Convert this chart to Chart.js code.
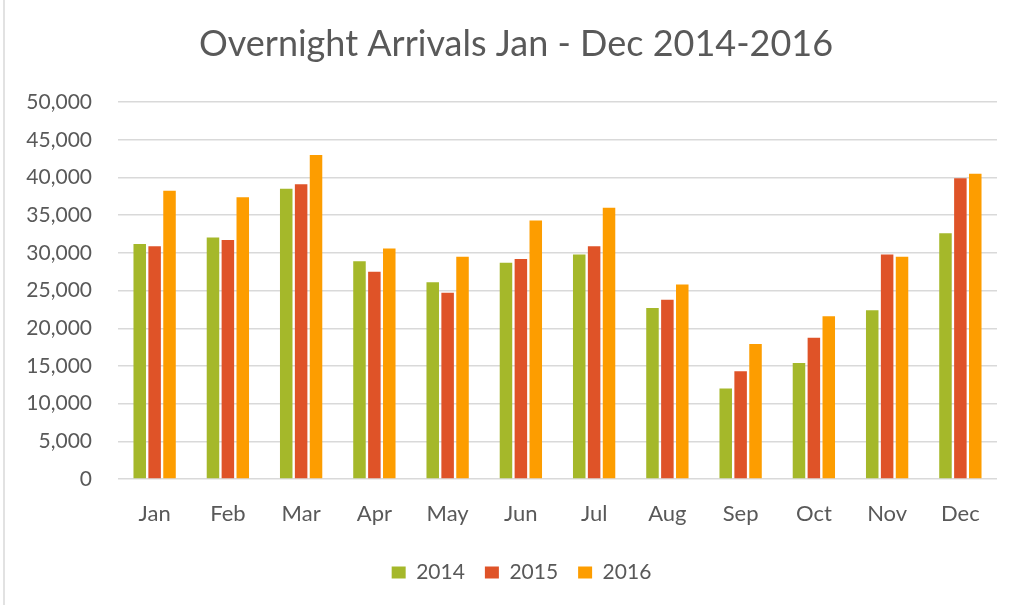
<!DOCTYPE html>
<html>
<head>
<meta charset="utf-8">
<script src="https://cdn.jsdelivr.net/npm/chart.js@4"></script>
<style>
  html, body { margin: 0; padding: 0; background: #fff; }
  #wrap { position: relative; width: 1024px; height: 605px; }
  #edge { position: absolute; left: 3px; top: 0; width: 2px; height: 605px; background: #e2e2e2; }
  canvas { display: block; }
</style>
</head>
<body>
<div id="wrap">
  <canvas id="arrivals" width="1024" height="605"></canvas>
  <div id="edge"></div>
</div>
<script>
// ---------- Data ----------
const months = ["Jan", "Feb", "Mar", "Apr", "May", "Jun", "Jul", "Aug", "Sep", "Oct", "Nov", "Dec"];
const years = ["2014", "2015", "2016"];

const arrivals2014 = [31200, 32050, 38500, 28900, 26100, 28700, 29800, 22700, 12000, 15400, 22400, 32600];
const arrivals2015 = [30900, 31700, 39100, 27500, 24700, 29200, 30900, 23800, 14300, 18750, 29800, 39900];
const arrivals2016 = [38250, 37400, 43000, 30600, 29500, 34300, 36000, 25800, 17900, 21600, 29500, 40500];

const yTicks = [0, 5000, 10000, 15000, 20000, 25000, 30000, 35000, 40000, 45000, 50000];

const colors = ["#a5b82a", "#df5328", "#fd9d00"];
const textGray = "#595959";
const fontFamily = "Lato, 'Open Sans', sans-serif";

// the original's title and legend sit a little right of the plot's centre
const nudgeBoxes = {
  id: "nudgeBoxes",
  afterLayout(chart) {
    if (chart.titleBlock) chart.titleBlock.left = 35;
    if (chart.legend) chart.legend.left = 46;
  },
};

// ---------- Chart ----------
const series = [arrivals2014, arrivals2015, arrivals2016];
const ctx = document.getElementById("arrivals").getContext("2d");

new Chart(ctx, {
  type: "bar",
  data: {
    labels: months,
    datasets: series.map((values, i) => ({
      label: years[i],
      data: values,
      backgroundColor: colors[i],
      borderWidth: 0,
      categoryPercentage: 0.61,
      barPercentage: 0.84,
    })),
  },
  plugins: [nudgeBoxes],
  options: {
    responsive: false,
    animation: false,
    layout: { padding: { left: 0, right: 27, top: 0, bottom: 12 } },
    plugins: {
      title: {
        display: true,
        text: "Overnight Arrivals Jan - Dec 2014-2016",
        color: textGray,
        font: { family: fontFamily, size: 36, weight: "normal" },
        padding: { top: 23, bottom: 36 },
      },
      legend: {
        position: "bottom",
        labels: {
          color: textGray,
          font: { family: fontFamily, size: 21 },
          boxWidth: 14,
          boxHeight: 12,
          padding: 20,
        },
      },
      tooltip: { enabled: false },
    },
    scales: {
      x: {
        afterFit: scale => { scale.height = 63; },
        grid: { display: false, drawTicks: false },
        border: { display: false },
        ticks: {
          color: textGray,
          font: { family: fontFamily, size: 22 },
          padding: 22,
        },
      },
      y: {
        min: 0,
        max: 50000,
        afterFit: scale => { scale.width = 118; },
        afterBuildTicks: scale => { scale.ticks = yTicks.map(v => ({ value: v })); },
        grid: { color: "#d9d9d9", lineWidth: 1.5, drawTicks: false },
        border: { display: false },
        ticks: {
          color: textGray,
          font: { family: fontFamily, size: 21 },
          padding: 26,
          callback: v => v.toLocaleString("en-US"),
        },
      },
    },
  },
});
</script>
</body>
</html>
